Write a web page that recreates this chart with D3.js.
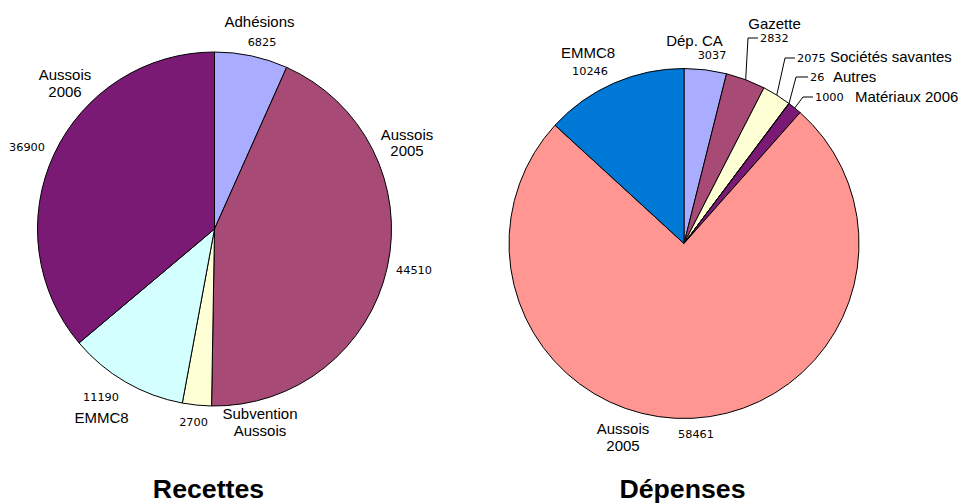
<!DOCTYPE html>
<html>
<head>
<meta charset="utf-8">
<script src="https://cdn.jsdelivr.net/npm/d3@7"></script>
<style>
  body { margin: 0; background: #fff; }
  .cat { font-family: "Liberation Sans", Arial, sans-serif; font-size: 15px; fill: #000; }
  .val { font-family: "DejaVu Sans", Verdana, sans-serif; font-size: 11.3px; fill: #000; }
  .title { font-family: "Liberation Sans", Arial, sans-serif; font-size: 26.7px; font-weight: bold; fill: #000; }
</style>
</head>
<body>
<div id="main-chart"></div>
<script>
// Recettes
var recetteNames = ["Adhésions", "Aussois 2005", "Subvention Aussois", "EMMC8", "Aussois 2006"];
var recetteValues = [6825, 44510, 2700, 11190, 36900];

// Dépenses
var depenseNames = ["Dép. CA", "Gazette", "Sociétés savantes", "Autres", "Matériaux 2006", "Aussois 2005", "EMMC8"];
var depenseValues = [3037, 2832, 2075, 26, 1000, 58461, 10246];

var recetteColors = ["#a9acff", "#a84a76", "#ffffd6", "#d4ffff", "#7a1a75"];
var depenseColors = ["#a9acff", "#a84a76", "#ffffd6", "#d4ffff", "#7a1a75", "#ff9692", "#0078d6"];

// label placement (screen layout, not data)
var recetteLabels = [
  { cat: [[259.5, 22]], val: [262, 42] },
  { cat: [[407, 135], [407, 151]], lines: ["Aussois", "2005"], val: [414, 270] },
  { cat: [[260, 414], [260, 431]], lines: ["Subvention", "Aussois"], val: [193.5, 422] },
  { cat: [[101.5, 418]], val: [101, 397] },
  { cat: [[65, 75], [65, 92]], lines: ["Aussois", "2006"], val: [27, 147] }
];
var depenseLabels = [
  { cat: [[694.5, 41]], val: [712, 55] },
  { cat: [[774.5, 24]], elbow: [[748, 38], [758, 38]], val: [760, 38] },
  { cat: [[830, 57]], anchor: "start", elbow: [[785, 58], [795, 58]], val: [797, 58] },
  { cat: [[833, 77]], anchor: "start", elbow: [[796, 77], [808, 77]], val: [810, 77] },
  { cat: [[855, 97]], anchor: "start", elbow: [[803, 97], [813, 97]], val: [815, 97] },
  { cat: [[623, 429], [623, 446]], lines: ["Aussois", "2005"], val: [696, 434] },
  { cat: [[588, 53]], val: [590, 71] }
];

var svg = d3.select("#main-chart")
  .append("svg")
  .attr("width", 960)
  .attr("height", 503);

function drawPie(names, values, colors, labels, cx, cy, r, title, tx) {
  var pie = d3.pie().sort(null).value(function(d) { return d; });
  var arcs = pie(values);
  var arc = d3.arc().innerRadius(0).outerRadius(r);

  var g = svg.append("g").attr("transform", "translate(" + cx + "," + cy + ")");
  g.selectAll("path")
    .data(arcs)
    .enter()
    .append("path")
    .attr("d", arc)
    .attr("fill", function(d, i) { return colors[i]; })
    .attr("stroke", "#000")
    .attr("stroke-width", 1)
    .attr("stroke-linejoin", "round");

  arcs.forEach(function(d, i) {
    var lab = labels[i];
    var mid = (d.startAngle + d.endAngle) / 2;

    if (lab.elbow) {
      var p0 = [cx + r * Math.sin(mid), cy - r * Math.cos(mid)];
      svg.append("polyline")
        .attr("points", [p0].concat(lab.elbow).map(function(p) { return p.join(","); }).join(" "))
        .attr("fill", "none")
        .attr("stroke", "#000")
        .attr("stroke-width", 1);
    }

    var lines = lab.lines || [names[i]];
    lab.cat.forEach(function(p, k) {
      svg.append("text")
        .attr("class", "cat")
        .attr("x", p[0])
        .attr("y", p[1])
        .attr("dy", "0.36em")
        .attr("text-anchor", lab.anchor || "middle")
        .text(lines[k]);
    });

    svg.append("text")
      .attr("class", "val")
      .attr("x", lab.val[0])
      .attr("y", lab.val[1])
      .attr("dy", "0.36em")
      .attr("text-anchor", lab.elbow ? "start" : "middle")
      .text(values[i]);
  });

  svg.append("text")
    .attr("class", "title")
    .attr("x", tx)
    .attr("y", 498)
    .attr("text-anchor", "middle")
    .text(title);
}

drawPie(recetteNames, recetteValues, recetteColors, recetteLabels, 214.5, 229, 177, "Recettes", 208.5);
drawPie(depenseNames, depenseValues, depenseColors, depenseLabels, 684, 243.5, 175, "Dépenses", 682.5);
</script>
</body>
</html>
